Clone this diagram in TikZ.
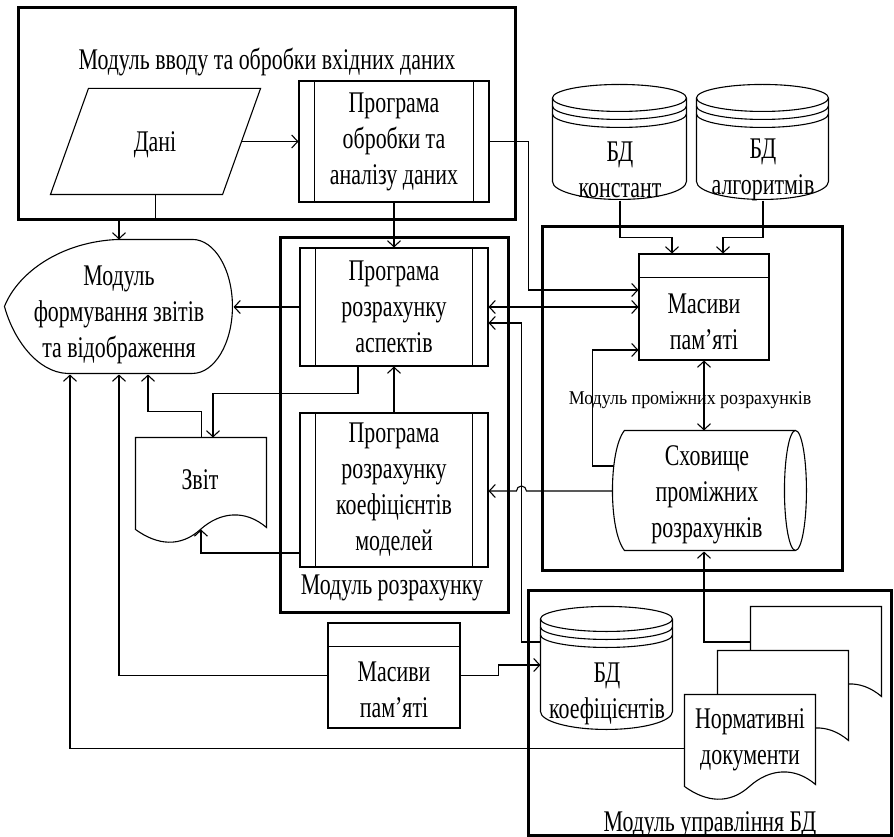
\documentclass[tikz,border=0pt]{standalone}
\usepackage{fontspec}
\setmainfont{Liberation Serif}[FakeStretch=0.73]
\newfontfamily\labelfam{Liberation Serif}[FakeStretch=0.92]
\usetikzlibrary{arrows.meta}
\newcommand\bigtext{\fontsize{30}{36}\selectfont}
\newcommand\smalltext{\labelfam\fontsize{19.5}{23}\selectfont}
% database cylinder drawn from its top-left corner:
% #1 half-width, #2 top ellipse half-height, #3 side length below the top ellipse centre
\newcommand\dbcyl[3]{%
  \draw[fill=white] (0,#2) -- (0,#2+#3)
     arc[start angle=180,end angle=360,x radius=#1pt,y radius=18pt]
     -- (2*#1,#2)
     arc[start angle=0,end angle=180,x radius=#1pt,y radius=#2pt] -- cycle;
  \foreach \d in {0,8,16}{\draw (0,#2+\d) arc[start angle=180,end angle=360,x radius=#1pt,y radius=#2pt];}%
}
\begin{document}
\begin{tikzpicture}[x=1pt,y=-1pt,line width=1.1pt,
  >={Straight Barb[length=6pt,width=13pt]},
  procbox/.style={draw,fill=white,rectangle,inner sep=0pt,align=center,font=\bigtext},
  hullbox/.style={rectangle,inner sep=0pt},
  modframe/.style={draw,line width=3pt,rectangle,inner sep=0pt},
  lbl/.style={align=center,font=\bigtext,inner sep=0pt},
  smalllbl/.style={font=\smalltext,inner sep=0pt},
  docpage/.pic={\draw[fill=white] (0,0) -- (131,0) -- (131,90)
      .. controls (110,72) and (85,74) .. (65,92)
      .. controls (45,110) and (22,108) .. (0,92) -- cycle;}]

\useasboundingbox (0,0) rectangle (894,837);
\fill[white] (0,0) rectangle (894,837);

% ---------- module frames ----------
\node[modframe,minimum width=497pt,minimum height=212pt] (mIn)   at (266.5,114) {};
\node[modframe,minimum width=228pt,minimum height=375pt] (mCalc) at (394,424.5) {};
\node[modframe,minimum width=300pt,minimum height=343pt] (mMid)  at (692,398.5) {};
\node[modframe,minimum width=363pt,minimum height=245pt] (mDb)   at (709.5,712.5) {};

% ---------- element outlines (named hulls) ----------
\node[hullbox,minimum width=209pt,minimum height=105pt] (dani) at (155.5,141.5) {};
\node[hullbox,minimum width=228pt,minimum height=134pt] (disp) at (119,307) {};
\node[hullbox,minimum width=131pt,minimum height=107pt] (zvit) at (201.5,491.5) {};
\node[hullbox,minimum width=134pt,minimum height=115pt] (bdc)  at (620,142.5) {};
\node[hullbox,minimum width=132pt,minimum height=115pt] (bda)  at (763,142.5) {};
\node[hullbox,minimum width=132pt,minimum height=123pt] (bdk)  at (607,668.5) {};
\node[hullbox,minimum width=194pt,minimum height=120pt] (store) at (710,491) {};
\node[hullbox,minimum width=131pt,minimum height=107pt] (bdoc) at (816.5,660.5) {};
\node[hullbox,minimum width=131pt,minimum height=107pt] (mdoc) at (783.5,704.5) {};
\node[hullbox,minimum width=131pt,minimum height=107pt] (ndoc) at (750.5,748.5) {};
\coordinate (zvitw) at ([shift={(65.5,92)}]zvit.north west);
\coordinate (riser) at ([xshift=-19pt]bdk.west);
\coordinate (bdkout) at ([yshift=26.5pt]bdk.west);

% rectangular boxes need their positions before the connectors
\path
  node[hullbox,minimum width=190pt,minimum height=121pt] (prog1) at (394,141.5) {}
  node[hullbox,minimum width=188pt,minimum height=118pt] (pasp)  at (394,307) {}
  node[hullbox,minimum width=188pt,minimum height=154pt] (pkoef) at (394,490) {}
  node[hullbox,minimum width=130pt,minimum height=106pt] (mas1)  at (704,307) {}
  node[hullbox,minimum width=132pt,minimum height=105pt] (mas2)  at (394,675.5) {};

% ---------- connectors ----------
\draw[->] (dani.south) -- ++(0,26) -| (disp.north);
\draw[->] ([xshift=-19pt]dani.east) -- (prog1.west);
\draw[->] (prog1.east) -- ++(39,0) |- ([yshift=17pt]mas1.west);
\draw[->] (prog1.south) -- (pasp.north);
\draw[->] (pkoef.north) -- (pasp.south);
\draw[->] (pasp.west) -- (disp.east);
\draw[<->] (pasp.east) -- (mas1.west);
\draw[->] (bdkout) -- (riser |- bdkout) |- ([yshift=-16pt]pasp.east);
\draw[->] ([xshift=-36pt]pasp.south) -- ++(0,27) -| ([xshift=11.5pt]zvit.north);
\draw[->] (zvit.north) -- ++(0,-26) -| ([xshift=29pt]disp.south);
\draw[->] ([yshift=-63pt]pkoef.west) -| (zvitw);
\draw[->] ([shift={(3pt,25pt)}]store.west) -- ++(-23,0) |- ([yshift=-43pt]mas1.west);
\draw[->] (store.west) -- ([xshift=5pt]store.west -| riser)
   arc[start angle=0,end angle=180,radius=5pt] -- (store.west -| pkoef.east);
\draw[<->] (mas1.south) -- (mas1.south |- store.north);
\draw[->] (bdc.south) -- ++(0,37) -| ([xshift=-32pt]mas1.north);
\draw[->] (bda.south) -- ++(0,37) -| ([xshift=19pt]mas1.north);
\draw[->] ([yshift=18.5pt]bdoc.west) -| (mas1.south |- store.south);
\draw[->] (ndoc.west) -| ([xshift=-49pt]disp.south);
\draw[->] (mas2.west) -| (disp.south);
\draw[->] (mas2.east) -- ++(38,0) |- ([yshift=3.5pt]bdk.west);

% ---------- shapes ----------
% input data (parallelogram)
\draw[fill=white] ([xshift=38pt]dani.north west) -- (dani.north east)
   -- ([xshift=-38pt]dani.south east) -- (dani.south west) -- cycle;
\node[lbl] (danit) at (155,145) {Дані};

% predefined processes
\node[procbox,minimum width=190pt,minimum height=121pt] (prog1b) at (prog1) {Програма\\обробки та\\аналізу даних};
\node[procbox,minimum width=188pt,minimum height=118pt] (paspb) at (pasp) {Програма\\розрахунку\\аспектів};
\node[procbox,minimum width=188pt,minimum height=154pt] (pkoefb) at (pkoef) {Програма\\розрахунку\\коефіцієнтів\\моделей};
\foreach \n in {prog1b,paspb,pkoefb}{
  \draw ([xshift=16pt]\n.north west) -- ([xshift=16pt]\n.south west)
        ([xshift=-16pt]\n.north east) -- ([xshift=-16pt]\n.south east);}

% memory arrays
\node[procbox,minimum width=130pt,minimum height=106pt] (mas1b) at (mas1) {};
\draw ([yshift=-24pt]mas1b.north west) -- ([yshift=-24pt]mas1b.north east);
\node[lbl] (mas1t) at (704,321.5) {Масиви\\пам'яті};
\node[procbox,minimum width=132pt,minimum height=105pt] (mas2b) at (mas2) {};
\draw ([yshift=-24pt]mas2b.north west) -- ([yshift=-24pt]mas2b.north east);
\node[lbl] (mas2t) at (394,690) {Масиви\\пам'яті};

% display
\begin{scope}[shift={(disp.north west)}]
  \draw[fill=white] (114,0) -- (188,0) .. controls (210,0) and (228,30) .. (228,67)
     .. controls (228,104) and (210,134) .. (188,134) -- (63,134)
     .. controls (33,133) and (9,100) .. (0,67)
     .. controls (14,32) and (58,2) .. (114,0) -- cycle;
\end{scope}
\node[lbl] (dispt) at (119,315) {Модуль\\формування звітів\\та відображення};

% report
\pic at (zvit.north west) {docpage};
\node[lbl] (zvitt) at (200,480) {Звіт};

% databases
\begin{scope}[shift={(bdc.north west)}]\dbcyl{67}{13.5}{83.5}\end{scope}
\node[lbl] (bdct) at (620,169.5) {БД\\констант};
\begin{scope}[shift={(bda.north west)}]\dbcyl{66}{13.5}{83.5}\end{scope}
\node[lbl] (bdat) at (763,169.5) {БД\\алгоритмів};
\begin{scope}[shift={(bdk.north west)}]\dbcyl{66}{12.5}{92.5}\end{scope}
\node[lbl] (bdkt) at (607,693.5) {БД\\коефіцієнтів};

% intermediate storage
\begin{scope}[shift={(store.north west)}]
  \draw[fill=white] (12,0) -- (183,0)
     arc[start angle=90,end angle=-90,x radius=11pt,y radius=60pt]
     -- (12,120) .. controls (-4,100) and (-4,20) .. (12,0) -- cycle;
  \draw (183,0) arc[start angle=90,end angle=270,x radius=11pt,y radius=60pt];
\end{scope}
\node[lbl] (storet) at (707,495) {Сховище\\проміжних\\розрахунків};

% normative documents (stack)
\pic at (bdoc.north west) {docpage};
\pic at (mdoc.north west) {docpage};
\pic at (ndoc.north west) {docpage};
\node[lbl] (ndoct) at (750,740) {Нормативні\\документи};

% ---------- module captions ----------
\node[lbl] (mInt)   at (267,62)  {Модуль вводу та обробки вхідних даних};
\node[lbl] (mCalct) at (392,588) {Модуль розрахунку};
\node[smalllbl] (mMidt) at (690,400) {Модуль проміжних розрахунків};
\node[lbl] (mDbt)   at (710,825) {Модуль управління БД};
\end{tikzpicture}
\end{document}
